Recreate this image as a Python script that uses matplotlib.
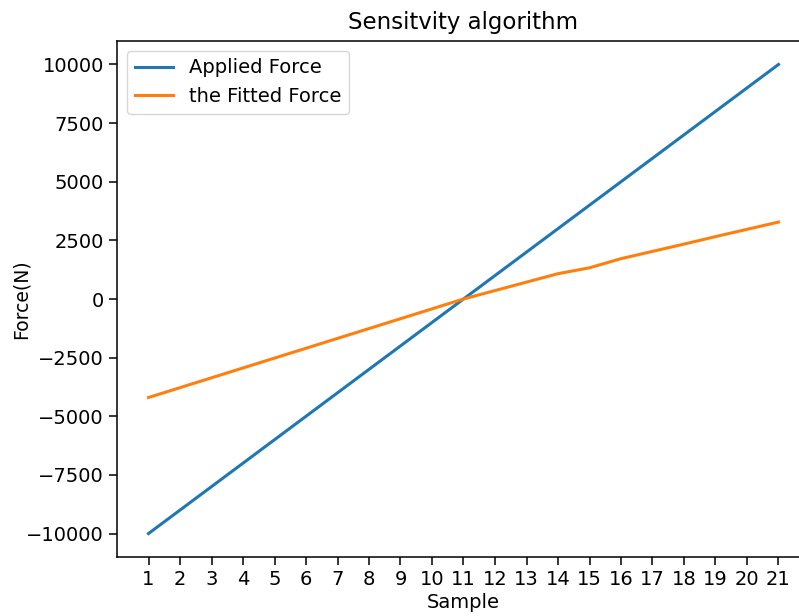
import numpy as np
import matplotlib
matplotlib.use('Agg')
import matplotlib.pyplot as plt

# data
sample = list(range(1, 22))
applied_force = [-10000, -9000, -8000, -7000, -6000, -5000, -4000, -3000, -2000, -1000,
                 0, 1000, 2000, 3000, 4000, 5000, 6000, 7000, 8000, 9000, 10000]
fitted_force = [-4200, -3780, -3360, -2940, -2520, -2100, -1680, -1260, -840, -420,
                0, 360, 720, 1080, 1330, 1720, 2030, 2340, 2660, 2970, 3280]

plt.rcParams['font.size'] = 14
plt.rcParams['axes.linewidth'] = 1.1
plt.rcParams['xtick.major.size'] = 6
plt.rcParams['ytick.major.size'] = 6
plt.rcParams['xtick.major.width'] = 1.1
plt.rcParams['ytick.major.width'] = 1.1

fig = plt.figure(figsize=(7.99, 6.16), dpi=100)
ax = fig.add_axes([117/799, 1 - 557/616, 693/799, 516/616])

ax.plot(sample, applied_force, label='Applied Force', linewidth=2.2)
ax.plot(sample, fitted_force, label='the Fitted Force', linewidth=2.2)

ax.set_xticks(sample)
ax.set_title('Sensitvity algorithm', fontsize=16.5, pad=9)
ax.set_xlabel('Sample', labelpad=3)
ax.set_ylabel('Force(N)', fontsize=13.5)
ax.yaxis.set_label_coords(-0.125, 0.5)
ax.legend(loc='upper left')

fig.savefig('out.png', dpi=100)
